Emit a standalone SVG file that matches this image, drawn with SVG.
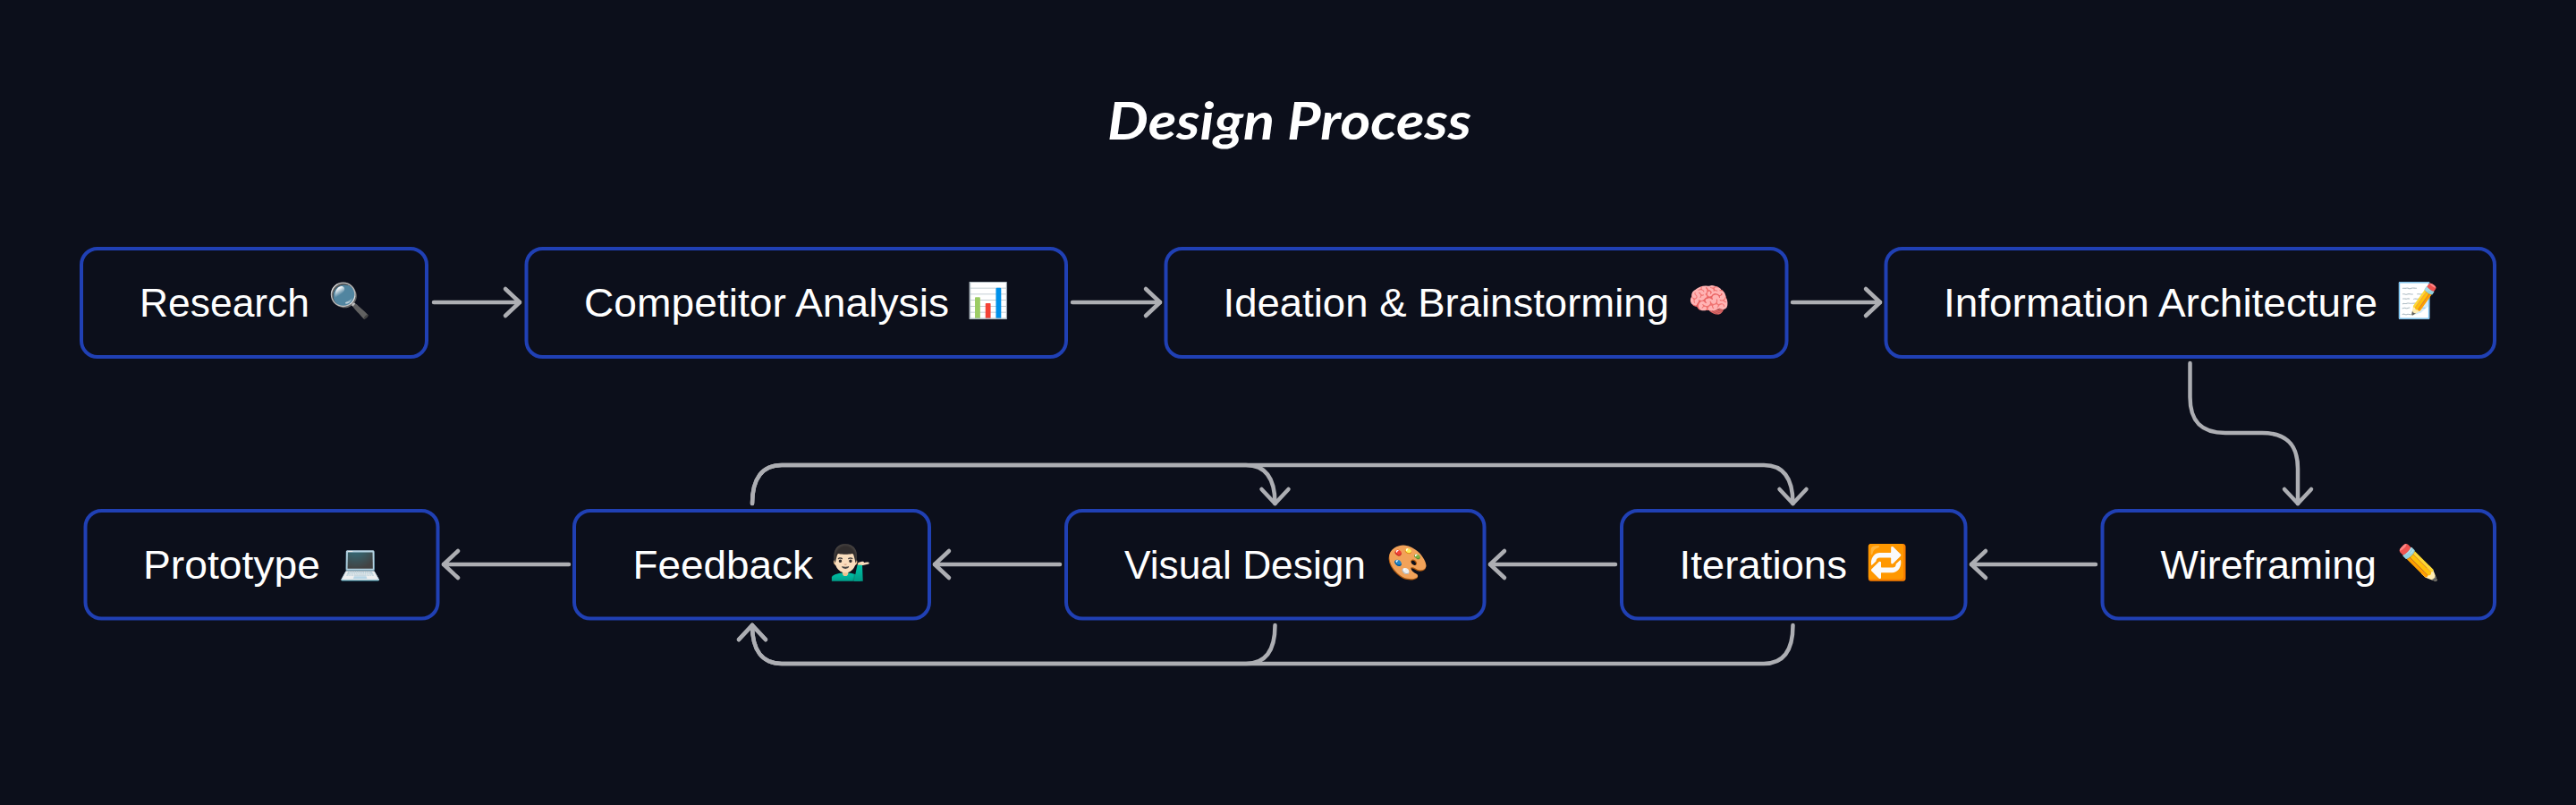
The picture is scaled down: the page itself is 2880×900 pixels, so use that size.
<svg xmlns="http://www.w3.org/2000/svg" width="2880" height="900" viewBox="0 0 2880 900">
<style>
.n{fill:#0c0f1b;stroke:#2040b4;stroke-width:4}
.t{font-family:"Liberation Sans",Arial,sans-serif;font-size:44px;fill:#fff}
.e{font-family:"Noto Color Emoji","Liberation Sans",sans-serif;font-size:38px;fill:#fff}
.c{fill:none;stroke:#adaeb3;stroke-width:4.5;stroke-linecap:round}
.title{font-family:"Lato","Noto Sans",sans-serif;font-size:58px;font-style:italic;font-weight:700;fill:#fff}
</style>
<defs>
<marker id="a" markerUnits="userSpaceOnUse" markerWidth="24" markerHeight="40" refX="20" refY="20" orient="auto" viewBox="0 0 24 40"><path d="M4 5L20 20L4 35" fill="none" stroke="#adaeb3" stroke-width="4.5" stroke-linecap="round" stroke-linejoin="round"/></marker>
</defs>
<rect width="2880" height="900" fill="#0c0f1b"/>
<text id="title" class="title" x="1238" y="156" textLength="407" lengthAdjust="spacingAndGlyphs">Design Process</text>
<g id="connectors">
<path class="c" marker-end="url(#a)" d="M485 338H581"/>
<path class="c" marker-end="url(#a)" d="M1199 338H1297"/>
<path class="c" marker-end="url(#a)" d="M2004 338H2102"/>
<path class="c" marker-end="url(#a)" d="M2448.5 406V444C2448.5 470 2460 484 2488 484H2529C2557 484 2569 498 2569 524V563"/>
<path class="c" marker-end="url(#a)" d="M2343 631H2204"/>
<path class="c" marker-end="url(#a)" d="M1806 631H1666"/>
<path class="c" marker-end="url(#a)" d="M1185 631H1045"/>
<path class="c" marker-end="url(#a)" d="M636 631H496"/>
<path class="c" marker-end="url(#a)" d="M841 563C841 535 852 520 874 520H1393C1415 520 1425.5 535 1425.5 563"/>
<path class="c" marker-end="url(#a)" d="M841 563C841 535 852 520 874 520H1972C1994 520 2004.5 535 2004.5 563"/>
<path class="c" marker-end="url(#a)" d="M2004.5 699C2004.5 727 1994 742 1972 742H874C852 742 841 727 841 699"/>
<path class="c" marker-end="url(#a)" d="M1425.5 699C1425.5 727 1415 742 1393 742H874C852 742 841 727 841 699"/>
</g>
<g id="research"><rect class="n" x="91" y="278" width="386" height="121" rx="18"/><text class="t" x="156" y="354" textLength="190" lengthAdjust="spacingAndGlyphs">Research</text><text class="e" x="367" y="349">🔍</text></g>
<g id="competitor"><rect class="n" x="588.5" y="278" width="603.5" height="121" rx="18"/><text class="t" x="653" y="354" textLength="408" lengthAdjust="spacingAndGlyphs">Competitor Analysis</text><text class="e" x="1081" y="349">📊</text></g>
<g id="ideation"><rect class="n" x="1303.5" y="278" width="694" height="121" rx="18"/><text class="t" x="1367.5" y="354" textLength="498.5" lengthAdjust="spacingAndGlyphs">Ideation &amp; Brainstorming</text><text class="e" x="1887" y="349">🧠</text></g>
<g id="information"><rect class="n" x="2108.5" y="278" width="680.5" height="121" rx="18"/><text class="t" x="2173" y="354" textLength="485" lengthAdjust="spacingAndGlyphs">Information Architecture</text><text class="e" x="2679" y="349">📝</text></g>
<g id="prototype"><rect class="n" x="95.5" y="571" width="394" height="120.5" rx="18"/><text class="t" x="160" y="647" textLength="198" lengthAdjust="spacingAndGlyphs">Prototype</text><text class="e" x="379" y="642">💻</text></g>
<g id="feedback"><rect class="n" x="642" y="571" width="397" height="120.5" rx="18"/><text class="t" x="707.5" y="647" textLength="201.5" lengthAdjust="spacingAndGlyphs">Feedback</text><text class="e" x="927" y="642">💁🏻‍♂️</text></g>
<g id="visual"><rect class="n" x="1192" y="571" width="467.5" height="120.5" rx="18"/><text class="t" x="1257" y="647" textLength="270" lengthAdjust="spacingAndGlyphs">Visual Design</text><text class="e" x="1550" y="642">🎨</text></g>
<g id="iterations"><rect class="n" x="1813" y="571" width="384.5" height="120.5" rx="18"/><text class="t" x="1877.5" y="647" textLength="187.5" lengthAdjust="spacingAndGlyphs">Iterations</text><text class="e" x="2086" y="642">🔁</text></g>
<g id="wireframing"><rect class="n" x="2350.5" y="571" width="438.5" height="120.5" rx="18"/><text class="t" x="2415.5" y="647" textLength="241.5" lengthAdjust="spacingAndGlyphs">Wireframing</text><text class="e" x="2680" y="642">✏️</text></g>
</svg>
